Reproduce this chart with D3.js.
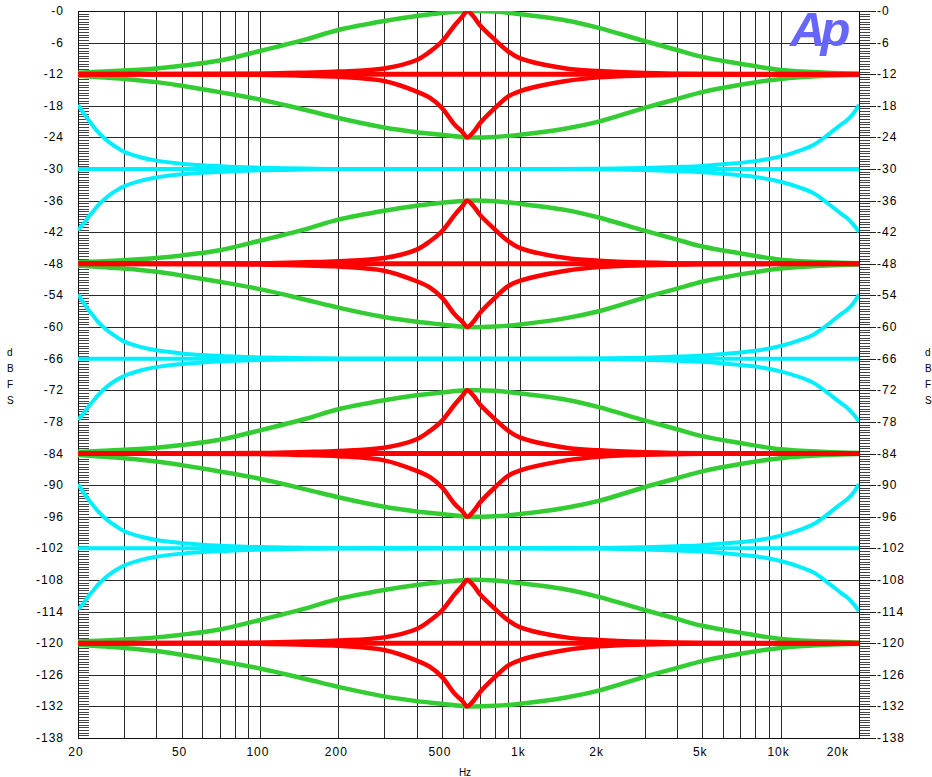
<!DOCTYPE html>
<html>
<head>
<meta charset="utf-8">
<script src="https://cdn.jsdelivr.net/npm/d3@7"></script>
<style>
  body { margin: 0; background: #fff; }
  text { font-family: "Liberation Sans", Arial, sans-serif; }
</style>
</head>
<body>
<div id="container"></div>
<script>
// levels of the curve families (dBFS)
var eqLevels = [-12, -48, -84, -120];
var shelfLevels = [-30, -66, -102];

// wide peaking band (green), gain relative to its level
var greenFreq = [20, 30, 40, 50, 70, 100, 150, 200, 300, 400, 500, 625, 800, 1000, 1500, 2000, 3000, 4000, 5000, 7000, 10000, 15000, 20000];
var greenUp   = [0.3, 0.7, 1.1, 1.6, 2.6, 4.4, 6.6, 8.4, 10.1, 11.05, 11.6, 12, 11.9, 11.4, 10.2, 8.8, 6.3, 4.6, 3.3, 2.0, 0.8, 0.3, 0.1];
var greenDown = [-0.3, -0.9, -1.5, -2.2, -3.4, -4.8, -6.8, -8.3, -10.1, -11.0, -11.5, -12, -11.9, -11.5, -10.3, -9.0, -6.4, -4.7, -3.4, -2.0, -0.9, -0.3, -0.1];

// narrow peaking band (red)
var redFreq = [20, 100, 150, 200, 300, 400, 450, 500, 560, 600, 625, 660, 700, 800, 900, 1000, 1500, 2000, 3000, 5000, 20000];
var redUp   = [0, 0.1, 0.3, 0.5, 1.1, 2.7, 4.3, 6.2, 9.3, 11.0, 12, 11.0, 9.3, 6.5, 4.3, 3.0, 1.1, 0.6, 0.25, 0.05, 0];
var redDown = [0, -0.1, -0.3, -0.5, -1.3, -3.3, -4.5, -6.4, -9.6, -11.0, -12, -11.0, -9.3, -6.4, -4.2, -3.2, -1.3, -0.6, -0.25, -0.05, 0];

// low + high shelves (cyan)
var cyanFreq = [20, 21, 22, 23, 24, 26, 28, 30, 35, 40, 50, 60, 80, 100, 150, 200, 500, 1000, 2000, 3000, 4000, 5000, 6000, 8000, 10000, 12000, 13400, 15000, 17000, 18000, 19000, 20000];
var cyanUp   = [12.2, 10.6, 9.2, 8.0, 6.9, 5.3, 4.2, 3.3, 2.2, 1.6, 1.0, 0.7, 0.4, 0.25, 0.1, 0, 0, 0, 0.05, 0.2, 0.4, 0.6, 0.9, 1.5, 2.4, 3.6, 4.6, 6.3, 8.4, 9.3, 10.5, 12.2];
var cyanDown = [-11.6, -10.4, -9.0, -7.9, -6.8, -5.2, -4.1, -3.3, -2.2, -1.6, -1.0, -0.7, -0.4, -0.25, -0.1, 0, 0, 0, -0.05, -0.2, -0.4, -0.6, -0.9, -1.5, -2.4, -3.6, -4.6, -6.3, -8.4, -9.3, -10.5, -11.9];

var yTicks = d3.range(0, -139, -6);
var xLabels = [20, 50, 100, 200, 500, 1000, 2000, 5000, 10000, 20000];

var w = 932, h = 777;
var svg = d3.select("div#container")
            .append("svg")
            .attr("width", w)
            .attr("height", h);

var x = d3.scaleLog().domain([20, 20000]).range([78, 859]);
var y = d3.scaleLinear().domain([0, -138]).range([11, 738]);

svg.append("clipPath").attr("id", "plotclip")
   .append("rect").attr("x", 78).attr("y", 11).attr("width", 781).attr("height", 727);

// grid
var grid = svg.append("g").attr("shape-rendering", "crispEdges");
grid.selectAll(".vg")
    .data(x.ticks().filter(function(d) { return d > 20 && d < 20000; }))
    .enter().append("line")
    .attr("x1", function(d) { return Math.round(x(d)) + 0.5; })
    .attr("x2", function(d) { return Math.round(x(d)) + 0.5; })
    .attr("y1", y(0)).attr("y2", y(-138))
    .attr("stroke", "#2a2a2a");
grid.selectAll(".hg")
    .data(yTicks)
    .enter().append("line")
    .attr("x1", x(20)).attr("x2", x(20000))
    .attr("y1", function(d) { return Math.round(y(d)) + 0.5; })
    .attr("y2", function(d) { return Math.round(y(d)) + 0.5; })
    .attr("stroke", "#2a2a2a");

// minor ticks on both sides
var minor = d3.range(0, -138.01, -0.5);
grid.selectAll(".ml")
    .data(minor).enter().append("line")
    .attr("x1", 78).attr("x2", 89)
    .attr("y1", function(d) { return Math.round(y(d)) + 0.5; })
    .attr("y2", function(d) { return Math.round(y(d)) + 0.5; })
    .attr("stroke", "#444");
grid.selectAll(".mr")
    .data(minor).enter().append("line")
    .attr("x1", 859).attr("x2", 870)
    .attr("y1", function(d) { return Math.round(y(d)) + 0.5; })
    .attr("y2", function(d) { return Math.round(y(d)) + 0.5; })
    .attr("stroke", "#444");
grid.selectAll(".jr")
    .data(yTicks).enter().append("line")
    .attr("x1", 859).attr("x2", 876)
    .attr("y1", function(d) { return Math.round(y(d)) + 0.5; })
    .attr("y2", function(d) { return Math.round(y(d)) + 0.5; })
    .attr("stroke", "#222");

// frame
grid.append("rect")
    .attr("x", 78.5).attr("y", 11.5).attr("width", 781).attr("height", 727)
    .attr("fill", "none").attr("stroke", "#111").attr("stroke-width", 1.5);

// logo
svg.append("text")
   .attr("x", 790).attr("y", 46)
   .style("font-size", "49px").style("font-weight", "bold").style("font-style", "italic")
   .style("letter-spacing", "-5px")
   .attr("fill", "#6666ff")
   .text("Ap");

// curves
var line = d3.line()
             .x(function(d) { return x(d[0]); })
             .y(function(d) { return y(d[1]); })
             .curve(d3.curveCatmullRom.alpha(0.5));

function pts(freqs, vals, level) {
    return freqs.map(function(f, i) { return [f, vals[i] + level]; });
}

var curves = svg.append("g").attr("clip-path", "url(#plotclip)")
                .attr("fill", "none").attr("stroke-linejoin", "round");

eqLevels.forEach(function(lv) {
    [greenUp, greenDown].forEach(function(v) {
        curves.append("path").attr("d", line(pts(greenFreq, v, lv)))
              .attr("stroke", "#33cc33").attr("stroke-width", 4.5);
    });
});
eqLevels.forEach(function(lv) {
    curves.append("path").attr("d", line([[20, lv], [20000, lv]]))
          .attr("stroke", "#ff0000").attr("stroke-width", 5);
    [redUp, redDown].forEach(function(v) {
        curves.append("path").attr("d", line(pts(redFreq, v, lv)))
              .attr("stroke", "#ff0000").attr("stroke-width", 4.5);
    });
});
shelfLevels.forEach(function(lv) {
    curves.append("path").attr("d", line([[20, lv], [20000, lv]]))
          .attr("stroke", "#00eeff").attr("stroke-width", 4);
    [cyanUp, cyanDown].forEach(function(v) {
        curves.append("path").attr("d", line(pts(cyanFreq, v, lv)))
              .attr("stroke", "#00eeff").attr("stroke-width", 4);
    });
});

// y labels
svg.selectAll(".yl")
   .data(yTicks).enter().append("text")
   .attr("x", 64).attr("y", function(d) { return y(d) + 4; })
   .attr("text-anchor", "end")
   .style("font-size", "12px").style("letter-spacing", "1px")
   .text(function(d) { return "-" + Math.abs(d); });
svg.selectAll(".yr")
   .data(yTicks).enter().append("text")
   .attr("x", 877).attr("y", function(d) { return y(d) + 4; })
   .style("font-size", "12px").style("letter-spacing", "1px")
   .text(function(d) { return "-" + Math.abs(d); });

// x labels
function fmt(d) { return d >= 1000 ? (d / 1000) + "k" : "" + d; }
svg.selectAll(".xl")
   .data(xLabels).enter().append("text")
   .attr("x", function(d) { return d === 20000 ? x(d) - 10 : x(d) - 2; })
   .attr("y", 756)
   .attr("text-anchor", function(d) { return d === 20000 ? "end" : "middle"; })
   .style("font-size", "12px").style("letter-spacing", "1px")
   .text(fmt);

svg.append("text").attr("x", 465).attr("y", 776).attr("text-anchor", "middle")
   .style("font-size", "10px").text("Hz");

// stacked dBFS labels
["d", "B", "F", "S"].forEach(function(c, i) {
    svg.append("text").attr("x", 7).attr("y", 356 + i * 16)
       .style("font-size", "10px").text(c);
    svg.append("text").attr("x", 925).attr("y", 356 + i * 16)
       .style("font-size", "10px").text(c);
});
</script>
</body>
</html>
